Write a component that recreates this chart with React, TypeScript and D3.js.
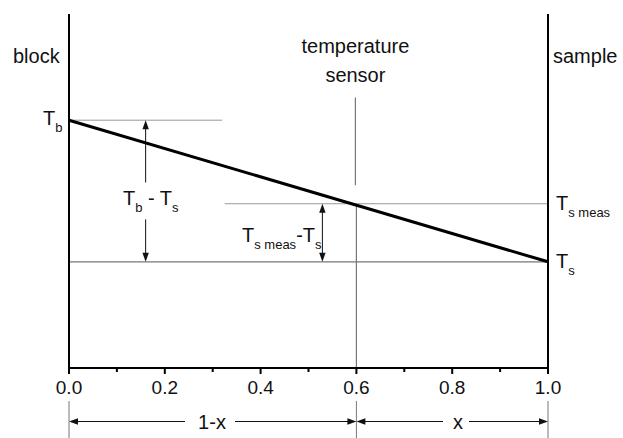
import React from "react";
import * as d3 from "d3";

// Position along the block–sample path (fraction of the gap)
const majorTicks = [0, 0.2, 0.4, 0.6, 0.8, 1.0];
const minorTicks = [0.1, 0.3, 0.5, 0.7, 0.9];

// Linear temperature profile between block and sample (relative units)
const profileX = [0, 1];
const profileT = [1.0, 0.0];

const T_BLOCK = 1.0;
const T_SAMPLE = 0.0;
const T_SENSOR = 0.41;
const SENSOR_X = 0.6;

// Guide-line extents and arrow gaps (x fraction / temperature units)
const blockRefEnd = 0.32;
const sensorRefStart = 0.325;
const sensorStemTop = 1.16;
const sensorStemBottom = 0.54;
const dropArrowX = 0.16;
const dropGapTop = 0.56;
const dropGapBottom = 0.3;
const sensorArrowX = 0.529;

const W = 623;
const H = 438;
const FONT = "'Liberation Sans', Arial, sans-serif";
const INK = "#111";

const x = d3.scaleLinear().domain([0, 1]).range([69, 548]);
const y = d3.scaleLinear().domain([-0.75, 1.75]).range([368, 14]);

function ArrowHead({ tx, ty, dir }: { tx: number; ty: number; dir: "up" | "down" | "left" | "right" }) {
  const L = 9;
  const hw = 3.2;
  let d = "";
  if (dir === "up") d = `M${tx},${ty} L${tx - hw},${ty + L} L${tx + hw},${ty + L} Z`;
  if (dir === "down") d = `M${tx},${ty} L${tx - hw},${ty - L} L${tx + hw},${ty - L} Z`;
  if (dir === "left") d = `M${tx},${ty} L${tx + L},${ty - hw} L${tx + L},${ty + hw} Z`;
  if (dir === "right") d = `M${tx},${ty} L${tx - L},${ty - hw} L${tx - L},${ty + hw} Z`;
  return <path d={d} fill={INK} />;
}

export default function App() {
  const line = d3
    .line<number>()
    .x((_, i) => x(profileX[i]))
    .y((d) => y(d));

  const dimY = 421.5;
  const extTop = 401;
  const gx = "#777";

  return (
    <svg
      width={W}
      height={H}
      style={{ position: "absolute", left: 0, top: 0, background: "#fff" }}
      fontFamily={FONT}
    >
      {/* reference levels */}
      <line x1={x(0)} x2={x(blockRefEnd)} y1={y(T_BLOCK)} y2={y(T_BLOCK)} stroke="#999" strokeWidth={1} />
      <line x1={x(sensorRefStart)} x2={x(1)} y1={y(T_SENSOR)} y2={y(T_SENSOR)} stroke="#999" strokeWidth={1} />
      <line x1={x(0)} x2={x(1)} y1={y(T_SAMPLE)} y2={y(T_SAMPLE)} stroke={gx} strokeWidth={1.2} />

      {/* sensor position */}
      <line x1={x(SENSOR_X) - 1} x2={x(SENSOR_X) - 1} y1={y(sensorStemTop)} y2={y(sensorStemBottom)} stroke={gx} strokeWidth={1.2} />
      <line x1={x(SENSOR_X)} x2={x(SENSOR_X)} y1={y(T_SENSOR)} y2={y(-0.75)} stroke={gx} strokeWidth={1.2} />

      {/* temperature profile */}
      <path d={line(profileT) || ""} fill="none" stroke="#000" strokeWidth={3} />

      {/* frame: block and sample walls, bottom axis */}
      <line x1={x(0)} x2={x(0)} y1={y(1.75)} y2={y(-0.75) + 1} stroke="#000" strokeWidth={2} />
      <line x1={x(1)} x2={x(1)} y1={y(1.75)} y2={y(-0.75) + 1} stroke="#000" strokeWidth={2} />
      <line x1={x(0) - 1} x2={x(1) + 1} y1={y(-0.75)} y2={y(-0.75)} stroke="#000" strokeWidth={2} />

      {majorTicks.map((t) => (
        <g key={"M" + t}>
          <line x1={x(t)} x2={x(t)} y1={y(-0.75)} y2={y(-0.75) + 6} stroke="#000" strokeWidth={2} />
          <text x={x(t)} y={394} textAnchor="middle" fontSize={19} fill={INK}>
            {d3.format(".1f")(t)}
          </text>
        </g>
      ))}
      {minorTicks.map((t) => (
        <line key={"m" + t} x1={x(t)} x2={x(t)} y1={y(-0.75)} y2={y(-0.75) + 4} stroke="#000" strokeWidth={2} />
      ))}

      {/* Tb - Ts arrow */}
      <line x1={x(dropArrowX)} x2={x(dropArrowX)} y1={y(T_BLOCK) + 8} y2={y(dropGapTop)} stroke={INK} strokeWidth={1} />
      <ArrowHead tx={x(dropArrowX)} ty={y(T_BLOCK)} dir="up" />
      <line x1={x(dropArrowX)} x2={x(dropArrowX)} y1={y(dropGapBottom)} y2={y(T_SAMPLE) - 8} stroke={INK} strokeWidth={1} />
      <ArrowHead tx={x(dropArrowX)} ty={y(T_SAMPLE)} dir="down" />
      <text x={123} y={205} fontSize={20} fill={INK}>
        T<tspan dy={7} fontSize={13}>b</tspan>
        <tspan dy={-7}> - T</tspan>
        <tspan dy={7} fontSize={13}>s</tspan>
      </text>

      {/* Ts meas - Ts arrow */}
      <line x1={x(sensorArrowX)} x2={x(sensorArrowX)} y1={y(T_SENSOR) + 8} y2={y(T_SAMPLE) - 8} stroke={INK} strokeWidth={1} />
      <ArrowHead tx={x(sensorArrowX)} ty={y(T_SENSOR)} dir="up" />
      <ArrowHead tx={x(sensorArrowX)} ty={y(T_SAMPLE)} dir="down" />
      <text x={242} y={242} fontSize={20} fill={INK}>
        T<tspan dy={7} fontSize={13}>s meas</tspan>
        <tspan dy={-7}>-T</tspan>
        <tspan dy={7} fontSize={13}>s</tspan>
      </text>

      {/* wall and level labels */}
      <text x={13} y={63} fontSize={20} fill={INK}>block</text>
      <text x={553} y={63} fontSize={20} fill={INK}>sample</text>
      <text x={x(SENSOR_X) - 1} y={53} textAnchor="middle" fontSize={20} fill={INK}>temperature</text>
      <text x={x(SENSOR_X) - 1} y={82} textAnchor="middle" fontSize={20} fill={INK}>sensor</text>

      <text x={43} y={y(T_BLOCK) + 5} fontSize={20} fill={INK}>
        T<tspan dy={7} fontSize={13}>b</tspan>
      </text>
      <text x={556} y={y(T_SENSOR) + 6} fontSize={20} fill={INK}>
        T<tspan dy={7} fontSize={13}>s meas</tspan>
      </text>
      <text x={556} y={y(T_SAMPLE) + 6} fontSize={20} fill={INK}>
        T<tspan dy={7} fontSize={13}>s</tspan>
      </text>

      {/* distance dimensions */}
      {[0, SENSOR_X, 1].map((t) => (
        <line key={"e" + t} x1={x(t)} x2={x(t)} y1={extTop} y2={H} stroke={gx} strokeWidth={1} />
      ))}
      <line x1={x(0) + 8} x2={185} y1={dimY} y2={dimY} stroke={INK} strokeWidth={1} />
      <line x1={235} x2={x(SENSOR_X) - 8} y1={dimY} y2={dimY} stroke={INK} strokeWidth={1} />
      <ArrowHead tx={x(0)} ty={dimY} dir="left" />
      <ArrowHead tx={x(SENSOR_X)} ty={dimY} dir="right" />
      <text x={212} y={dimY + 7} textAnchor="middle" fontSize={20} fill={INK}>1-x</text>

      <line x1={x(SENSOR_X) + 8} x2={443} y1={dimY} y2={dimY} stroke={INK} strokeWidth={1} />
      <line x1={469} x2={x(1) - 8} y1={dimY} y2={dimY} stroke={INK} strokeWidth={1} />
      <ArrowHead tx={x(SENSOR_X)} ty={dimY} dir="left" />
      <ArrowHead tx={x(1)} ty={dimY} dir="right" />
      <text x={458} y={dimY + 7} textAnchor="middle" fontSize={20} fill={INK}>x</text>
    </svg>
  );
}
